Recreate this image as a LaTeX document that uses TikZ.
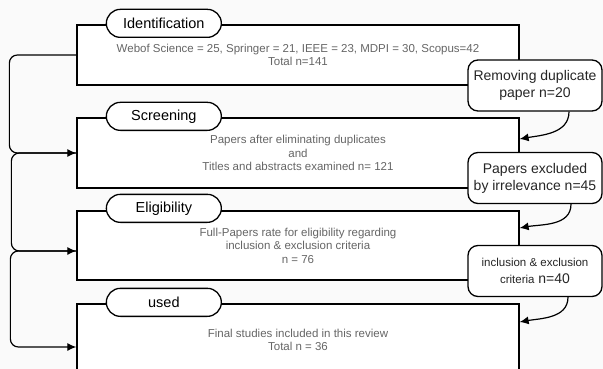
\documentclass[tikz,border=0pt]{standalone}
\usepackage{fontspec}
\setmainfont{Liberation Sans}
\usepackage{tikz}
\usetikzlibrary{shapes.geometric, arrows, arrows.meta, positioning}
\tikzstyle{stage} = [rectangle, minimum width=442pt, text centered, align=center, draw=black, fill=white, line width=1.3pt, text=black!60, font=\fontsize{11.5}{13.5}\selectfont]
\tikzstyle{tag} = [rectangle, rounded corners=14pt, minimum width=115pt, minimum height=28pt, text centered, draw=black, fill=white, line width=1.3pt, font=\fontsize{14.5}{16}\selectfont]
\tikzstyle{excluded} = [rectangle, rounded corners=10pt, minimum width=134pt, minimum height=51pt, text centered, align=center, draw=black, fill=white, line width=1.3pt, text=black!85, font=\fontsize{14}{17}\selectfont]
\tikzstyle{arrow} = [line width=1.2pt,->,>={Latex[length=9pt,width=8pt]}]

\begin{document}
\begin{tikzpicture}[x=1pt, y=-1pt]
    \fill[black!2] (0,0) rectangle (603,369);
    \clip (0,0) rectangle (603,369);

    \node (ident) [stage, minimum height=60pt] at (298,55) {Webof Science = 25, Springer = 21, IEEE = 23, MDPI = 30, Scopus=42\\Total n=141};
    \node (screen) [stage, minimum height=70pt] at (298,153) {Papers after eliminating duplicates\\and\\Titles and abstracts examined n= 121};
    \node (elig) [stage, minimum height=69pt] at (298,245.5) {Full-Papers rate for eligibility regarding\\inclusion \& exclusion criteria\\n = 76};
    \node (used) [stage, minimum height=72pt] at (298,340) {Final studies included in this review\\Total n = 36};

    \node (identtag) [tag] at ([xshift=87.5pt, yshift=1pt]ident.north west) {Identification};
    \node (screentag) [tag] at ([xshift=87.5pt, yshift=1pt]screen.north west) {Screening};
    \node (eligtag) [tag] at ([xshift=87.5pt, yshift=2pt]elig.north west) {Eligibility};
    \node (usedtag) [tag] at ([xshift=87.5pt, yshift=1pt]used.north west) {used};

    \node (dup) [excluded] at (535,85.5) {Removing duplicate\\paper n=20};
    \node (irrel) [excluded] at (535,178) {Papers excluded\\by irrelevance n=45};
    \node (crit) [excluded] at (535,271) {{\fontsize{11.5}{17}\selectfont inclusion \& exclusion}\\{\fontsize{11.5}{17}\selectfont criteria} n=40};

    \draw [arrow] ([xshift=34pt]dup.south) to[out=-90, in=10] ([yshift=14pt]screen.east);
    \draw [arrow] ([xshift=36pt]irrel.south) to[out=-90, in=10] ([yshift=17.5pt]elig.east);
    \draw [arrow] ([xshift=33pt]crit.south) to[out=-90, in=10] ([yshift=18pt]used.east);

    \draw [arrow, rounded corners=8pt] (ident.west) -- ++(-67,0) |- (screen.west);
    \draw [arrow, rounded corners=8pt] (screen.west) -- ++(-65,0) |- ([yshift=-5.5pt]elig.west);
    \draw [arrow, rounded corners=8pt] ([yshift=-5.5pt]elig.west) -- ++(-66,0) |- ([yshift=-7pt]used.west);
\end{tikzpicture}
\end{document}
